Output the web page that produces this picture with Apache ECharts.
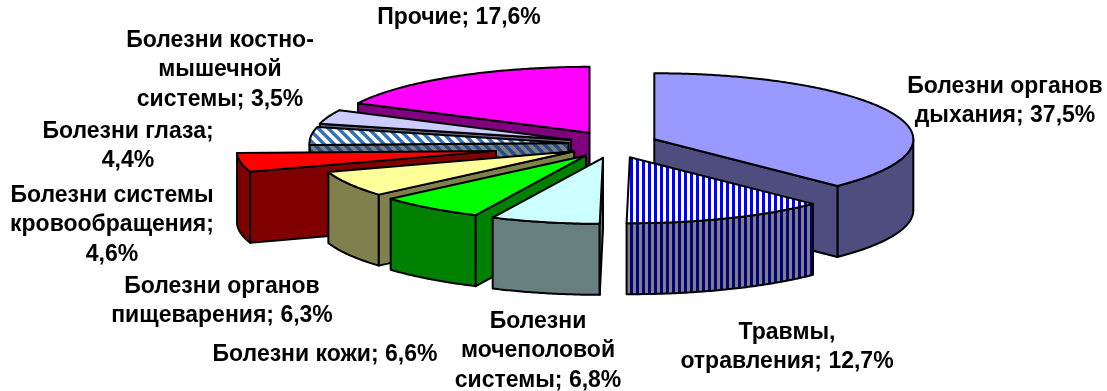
<!DOCTYPE html>
<html>
<head>
<meta charset="utf-8">
<script src="https://cdn.jsdelivr.net/npm/echarts@6/dist/echarts.min.js"></script>
<style>
  html, body { margin: 0; padding: 0; background: #ffffff; }
  #chart { width: 1107px; height: 391px; }
</style>
</head>
<body>
<div id="chart"></div>
<script>
// Structure of morbidity, % of all cases
const categories = [
  'Болезни органов дыхания',
  'Травмы, отравления',
  'Болезни мочеполовой системы',
  'Болезни кожи',
  'Болезни органов пищеварения',
  'Болезни системы кровообращения',
  'Болезни глаза',
  'Болезни костно-мышечной системы',
  'Прочие'
];
const shares = [37.5, 12.7, 6.8, 6.6, 6.3, 4.6, 4.4, 3.5, 17.6];
// label text per slice, {v} is replaced by the share
const labelTemplates = [
  'Болезни органов\nдыхания; {v}%',
  'Травмы,\nотравления; {v}%',
  'Болезни\nмочеполовой\nсистемы; {v}%',
  'Болезни кожи; {v}%',
  'Болезни органов\nпищеварения; {v}%',
  'Болезни системы\nкровообращения;\n{v}%',
  'Болезни глаза;\n{v}%',
  'Болезни костно-\nмышечной\nсистемы; {v}%',
  'Прочие; {v}%'
];

// ---- styling ----
function makePattern(w, h, paint) {
  const c = document.createElement('canvas');
  c.width = w; c.height = h;
  paint(c.getContext('2d'), w, h);
  return { image: c, repeat: 'repeat' };
}
function vStripes(a, b) {
  return makePattern(6, 6, (g) => {
    g.fillStyle = b; g.fillRect(0, 0, 6, 6);
    g.fillStyle = a; g.fillRect(0, 0, 3, 6);
  });
}
function diagStripes(bg, fg) {
  return makePattern(10, 10, (g) => {
    g.fillStyle = bg; g.fillRect(0, 0, 10, 10);
    g.strokeStyle = fg; g.lineWidth = 3.4;
    g.beginPath();
    g.moveTo(-2, -2); g.lineTo(12, 12);
    g.moveTo(-2, 8); g.lineTo(2, 12);
    g.moveTo(8, -2); g.lineTo(12, 2);
    g.stroke();
  });
}
const topFills = [
  '#9999FF', vStripes('#0000FF', '#FFFFFF'), '#CCFFFF', '#00FF00', '#FFFF99',
  '#FF0000', diagStripes('#FFFFFF', '#2F72BA'), '#CCCCFF', '#FF00FF'
];
const sideFills = [
  '#4D4D80', vStripes('#000080', '#808080'), '#668080', '#008000', '#80804D',
  '#800000', diagStripes('#808080', '#1F4F86'), '#666680', '#800080'
];
// how far each slice is pulled out of the pie
const explode = [1, 1, 1, 1, 1, 2.66, 1, 1, 1];
const labelPos = [
  [1005, 101], [787, 347], [538, 351], [325, 355], [222, 301],
  [112, 225], [128, 146], [220, 70], [459, 18]
];

// pie geometry (pixels)
const CX = 613, CY = 144.5;   // pie centre
const RX = 259, RY = 66;      // ellipse radii of the top face
const H = 71;                 // slice thickness
const EXP_X = 44.7, EXP_Y = 13.7;

const total = shares.reduce((s, v) => s + v, 0);
const startAng = [], endAng = [];
let acc = 0;
shares.forEach((v) => {
  startAng.push(acc / total * 2 * Math.PI);
  acc += v;
  endAng.push(acc / total * 2 * Math.PI);
});
function apexOf(i) {
  const mid = (startAng[i] + endAng[i]) / 2;
  return [CX + EXP_X * explode[i] * Math.sin(mid), CY - EXP_Y * explode[i] * Math.cos(mid)];
}
// paint back slices first
const depthKey = shares.map((v, i) => {
  const mid = (startAng[i] + endAng[i]) / 2;
  return apexOf(i)[1] - Math.cos(mid) * RY * 0.6;
});
const order = shares.map((v, i) => i).sort((a, b) => depthKey[a] - depthKey[b]);
const rank = [];
order.forEach((idx, r) => { rank[idx] = r; });

function renderSlice(params, api) {
  const i = params.dataIndex;
  const t1 = startAng[i], t2 = endAng[i];
  const [ax, ay] = apexOf(i);
  const pt = (t, dz) => [ax + RX * Math.sin(t), ay - RY * Math.cos(t) + dz];
  const arc = (a, b, dz) => {
    const n = Math.max(2, Math.ceil(Math.abs(b - a) / 0.01));
    const out = [];
    for (let k = 0; k <= n; k++) out.push(pt(a + (b - a) * k / n, dz));
    return out;
  };
  const z = rank[i] * 10;
  const lineStyle = { stroke: '#000', lineWidth: 2, lineJoin: 'round' };
  const children = [];
  // curved outer wall (front half only)
  const a = Math.max(t1, Math.PI / 2), b = Math.min(t2, 1.5 * Math.PI);
  if (b > a) {
    children.push({
      type: 'polygon', z2: z + 1,
      shape: { points: arc(a, b, 0).concat(arc(b, a, H)) },
      style: Object.assign({ fill: sideFills[i] }, lineStyle)
    });
  }
  const radialWall = (t) => {
    const o = pt(t, 0);
    return {
      type: 'polygon', z2: z + 1,
      shape: { points: [[ax, ay], o, [o[0], o[1] + H], [ax, ay + H]] },
      style: Object.assign({ fill: sideFills[i] }, lineStyle)
    };
  };
  if (Math.sin(t1) < -1e-6) children.push(radialWall(t1));
  if (Math.sin(t2) > 1e-6) children.push(radialWall(t2));
  // top face
  children.push({
    type: 'polygon', z2: z + 2,
    shape: { points: [[ax, ay]].concat(arc(t1, t2, 0)) },
    style: Object.assign({ fill: topFills[i] }, lineStyle)
  });
  return { type: 'group', children };
}

const fmt = (v) => String(v.toFixed(1)).replace('.', ',');
const labelFont = { fontFamily: '"Liberation Sans", Arial, sans-serif', fontWeight: 'bold', fontSize: 23 };

const chart = echarts.init(document.getElementById('chart'));
chart.setOption({
  backgroundColor: '#ffffff',
  animation: false,
  series: [{
    type: 'custom',
    coordinateSystem: 'none',
    renderItem: renderSlice,
    data: shares.map((v, i) => ({ name: categories[i], value: v }))
  }],
  graphic: labelTemplates.map((tpl, i) => ({
    type: 'text',
    x: labelPos[i][0], y: labelPos[i][1],
    z: 100,
    style: Object.assign({
      text: tpl.replace('{v}', fmt(shares[i])),
      fill: '#000',
      align: 'center',
      verticalAlign: 'middle',
      lineHeight: 29.5
    }, labelFont)
  }))
});
</script>
</body>
</html>
